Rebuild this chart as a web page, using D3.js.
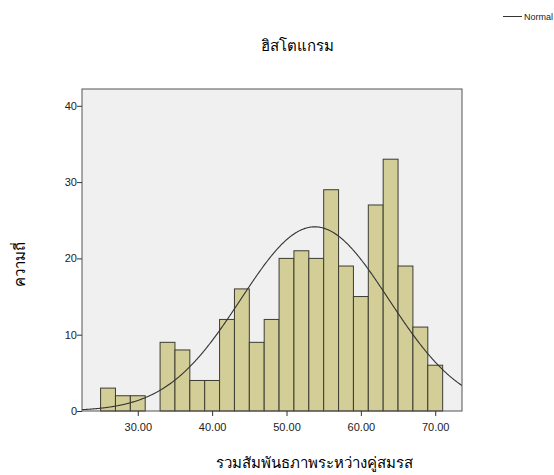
<!DOCTYPE html>
<html>
<head>
<meta charset="utf-8">
<script src="https://cdn.jsdelivr.net/npm/d3@7"></script>
<style>
  body { margin: 0; background: #fff; }
  text { font-family: "Liberation Sans", Arial, sans-serif; }
</style>
</head>
<body>
<svg id="chart" width="554" height="475"></svg>
<script>
// bin starts (width 2) and frequencies
const binStarts = [25, 27, 29, 31, 33, 35, 37, 39, 41, 43, 45, 47, 49, 51, 53, 55, 57, 59, 61, 63, 65, 67, 69];
const counts    = [3, 2, 2, 0, 9, 8, 4, 4, 12, 16, 9, 12, 20, 21, 20, 29, 19, 15, 27, 33, 19, 11, 6];
const binWidth = 2;
const xTicks = [30, 40, 50, 60, 70];
const yTicks = [0, 10, 20, 30, 40];
// normal curve parameters (estimated)
const curveMean = 53.8;
const curveSd = 9.95;
const nTotal = d3.sum(counts);

const margin = {top: 89, right: 92, bottom: 64, left: 82};
const width = 554 - margin.left - margin.right;
const height = 475 - margin.top - margin.bottom;

let svg = d3.select("#chart");
let g = svg.append("g").attr("transform", "translate(" + margin.left + "," + margin.top + ")");

let xScale = d3.scaleLinear().domain([22.5, 73.6]).range([0, width]);
let yScale = d3.scaleLinear().domain([0, 42.2]).range([height, 0]);

// plot background
g.append("rect")
    .attr("width", width).attr("height", height)
    .style("fill", "#f0f0f0");

let bins = binStarts.map((s, i) => ({x0: s, x1: s + binWidth, n: counts[i]})).filter(d => d.n > 0);

g.append("g").selectAll("rect")
    .data(bins).enter().append("rect")
    .attr("x", d => xScale(d.x0))
    .attr("y", d => yScale(d.n))
    .attr("width", d => xScale(d.x1) - xScale(d.x0))
    .attr("height", d => yScale(0) - yScale(d.n))
    .style("fill", "#d3ce97")
    .style("stroke", "#3c3c32")
    .style("stroke-width", 1);

// normal curve
g.append("clipPath").attr("id", "clip")
    .append("rect").attr("width", width).attr("height", height);
let xs = d3.range(220, 737).map(v => v / 10);
let normal = v => nTotal * binWidth / (curveSd * Math.sqrt(2 * Math.PI)) * Math.exp(-0.5 * Math.pow((v - curveMean) / curveSd, 2));
g.append("path")
    .datum(xs)
    .attr("clip-path", "url(#clip)")
    .attr("d", d3.line().x(d => xScale(d)).y(d => yScale(normal(d))))
    .style("fill", "none")
    .style("stroke", "#333")
    .style("stroke-width", 1.1);

// frame
g.append("rect")
    .attr("width", width).attr("height", height)
    .style("fill", "none")
    .style("stroke", "#555")
    .style("stroke-width", 1);

// axes
let xAxis = d3.axisBottom(xScale).tickValues(xTicks).tickFormat(d3.format(".2f")).tickSize(5).tickSizeOuter(0);
let xg = g.append("g").attr("transform", "translate(0," + height + ")").call(xAxis);
let yAxis = d3.axisLeft(yScale).tickValues(yTicks).tickFormat(d3.format("d")).tickSize(5).tickSizeOuter(0);
let yg = g.append("g").call(yAxis);
[xg, yg].forEach(a => {
    a.select(".domain").remove();
    a.selectAll("line").style("stroke", "#333");
    a.selectAll("text").style("font-size", "11px").style("fill", "#222")
        .style("font-family", "'Liberation Sans', Arial, sans-serif");
});
xg.selectAll("text").attr("dy", "1.05em");
yg.selectAll("text").attr("x", -5);

// titles
svg.append("text")
    .attr("x", 297).attr("y", 51)
    .attr("text-anchor", "middle")
    .style("font-size", "15px").style("fill", "#000")
    .text("ฮิสโตแกรม");

svg.append("text")
    .attr("x", 314).attr("y", 468)
    .attr("text-anchor", "middle")
    .style("font-size", "15px").style("fill", "#000")
    .text("รวมสัมพันธภาพระหว่างคู่สมรส");

svg.append("text")
    .attr("transform", "translate(25,264) rotate(-90)")
    .attr("text-anchor", "middle")
    .style("font-size", "15px").style("fill", "#000")
    .text("ความถี่");

// legend
svg.append("line")
    .attr("x1", 503).attr("x2", 522).attr("y1", 16.5).attr("y2", 16.5)
    .style("stroke", "#333").style("stroke-width", 1);
svg.append("text")
    .attr("x", 524).attr("y", 20)
    .style("font-size", "9px").style("fill", "#222")
    .text("Normal");
</script>
</body>
</html>
